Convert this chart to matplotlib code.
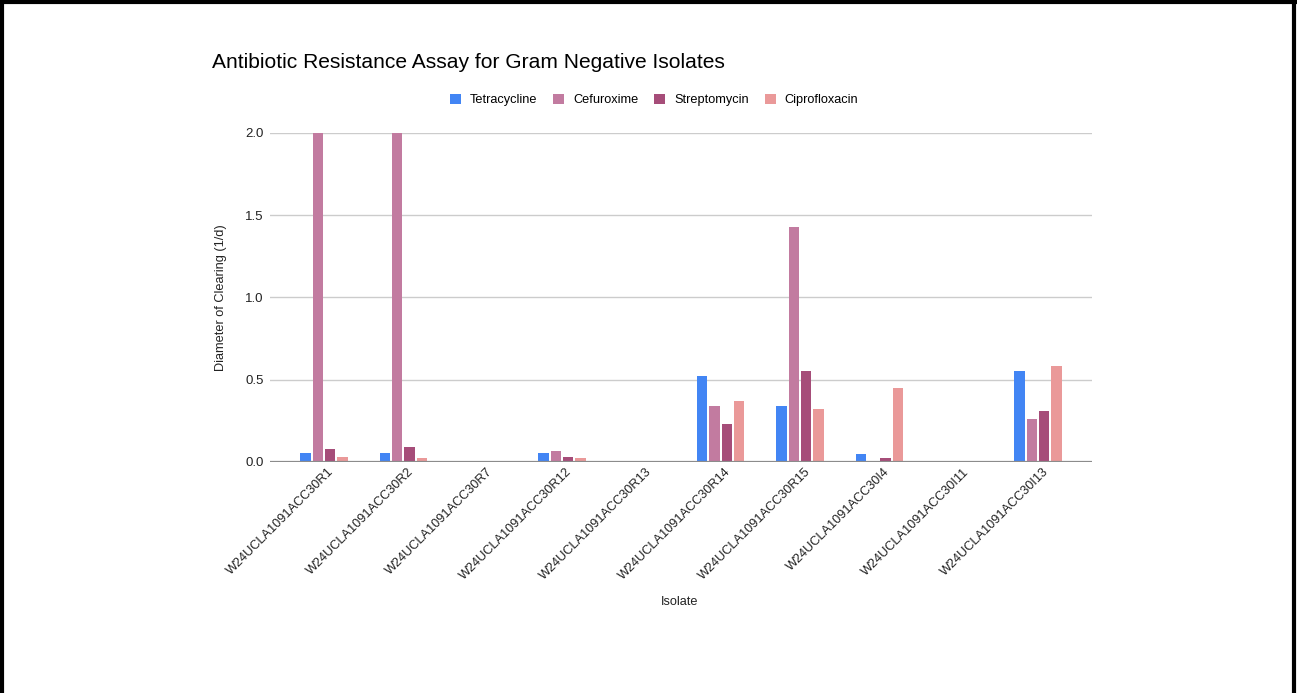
import matplotlib
matplotlib.use("Agg")
import matplotlib.pyplot as plt
import matplotlib.transforms as mtransforms
from matplotlib.lines import Line2D
import numpy as np

plt.rcParams['font.family'] = ['Liberation Sans', 'DejaVu Sans']

isolates = [
    "W24UCLA1091ACC30R1", "W24UCLA1091ACC30R2", "W24UCLA1091ACC30R7",
    "W24UCLA1091ACC30R12", "W24UCLA1091ACC30R13", "W24UCLA1091ACC30R14",
    "W24UCLA1091ACC30R15", "W24UCLA1091ACC30I4", "W24UCLA1091ACC30I11",
    "W24UCLA1091ACC30I13",
]
tetracycline = [0.053, 0.053, 0.0, 0.053, 0.0, 0.523, 0.340, 0.047, 0.0, 0.555]
cefuroxime = [2.0, 2.0, 0.0, 0.067, 0.0, 0.340, 1.427, 0.0, 0.0, 0.259]
streptomycin = [0.079, 0.089, 0.0, 0.029, 0.0, 0.229, 0.555, 0.022, 0.0, 0.310]
ciprofloxacin = [0.028, 0.022, 0.0, 0.027, 0.0, 0.369, 0.322, 0.448, 0.0, 0.585]

series_names = ["Tetracycline", "Cefuroxime", "Streptomycin", "Ciprofloxacin"]
series_values = [tetracycline, cefuroxime, streptomycin, ciprofloxacin]
colors = ["#4285F4", "#C27BA0", "#A64D79", "#EA9999"]
y_ticks = [0.0, 0.5, 1.0, 1.5, 2.0]

text_color = "#222222"
fs = 9.2

fig = plt.figure(figsize=(12.97, 6.93), dpi=100)
ax = fig.add_axes([270 / 1297, 1 - 462 / 693, 822 / 1297, 329 / 693])

x = np.arange(len(isolates))
slot = 0.155
bar_w = 0.132
for i, (name, vals, c) in enumerate(zip(series_names, series_values, colors)):
    offs = (i - 1.5) * slot
    ax.bar(x + offs, vals, width=bar_w, color=c, label=name, zorder=3,
           clip_on=False)

ax.set_xlim(-0.68, len(isolates) - 1 + 0.68)
ax.set_ylim(0, 2.0)
ax.set_yticks(y_ticks)
ax.set_yticklabels([f"{v:.1f}" for v in y_ticks], fontsize=fs + 0.3, color=text_color)
ax.grid(axis='y', color="#cccccc", linewidth=1.0, zorder=0)
ax.axhline(0, color="#8c8c8c", linewidth=1.6, zorder=4)
for s in ax.spines.values():
    s.set_visible(False)
ax.tick_params(axis='y', length=0, pad=4.5)
ax.tick_params(axis='x', length=0, pad=4)

ax.set_xticks(x)
ax.set_xticklabels(isolates, rotation=45, ha='right', va='center',
                   rotation_mode='anchor', fontsize=fs, color=text_color)
shift = mtransforms.ScaledTranslation(6 / 72, -2 / 72, fig.dpi_scale_trans)
for lbl in ax.get_xticklabels():
    lbl.set_transform(lbl.get_transform() + shift)

ax.set_ylabel("Diameter of Clearing (1/d)", fontsize=fs, color=text_color)
ax.yaxis.set_label_coords(-0.052, 0.5)
fig.text(680 / 1297, 1 - 602 / 693, "Isolate", fontsize=fs, color=text_color,
         ha='center', va='center')

fig.text(212 / 1297, 1 - 62 / 693, "Antibiotic Resistance Assay for Gram Negative Isolates",
         fontsize=15.1, color="#000000", ha='left', va='center')

leg = fig.legend(loc='center', bbox_to_anchor=(654 / 1297, 1 - 100 / 693), ncol=4,
                 frameon=False, fontsize=fs, handlelength=0.85, handleheight=0.85,
                 handletextpad=0.7, columnspacing=1.25)

# frame around the figure
for xs, ys in [([0.0015, 0.0015], [0, 1]), ([0.9975, 0.9975], [0, 1]),
               ([0, 1], [0.997, 0.997])]:
    fig.add_artist(Line2D(xs, ys, transform=fig.transFigure, color="black",
                          linewidth=3))

fig.savefig("out.png", dpi=100, facecolor="white")
